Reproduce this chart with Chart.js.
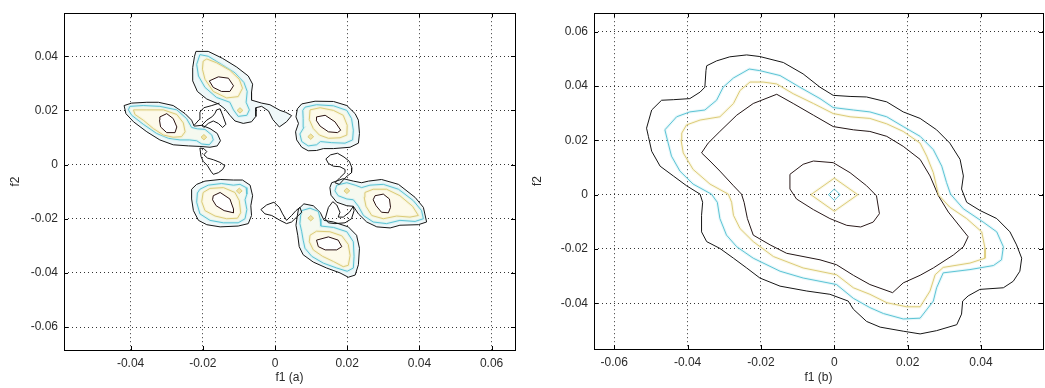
<!DOCTYPE html>
<html>
<head>
<meta charset="utf-8">
<script src="https://cdn.jsdelivr.net/npm/chart.js@4.4.1/dist/chart.umd.min.js"></script>
<style>
  html, body { margin: 0; padding: 0; background: #fff; }
  #wrap { position: relative; width: 1045px; height: 388px; overflow: hidden; }
  #left { position: absolute; left: 0; top: 0; }
  #right { position: absolute; left: 522px; top: 0; }
</style>
</head>
<body>
<div id="wrap">
  <canvas id="left" width="522" height="388" style="width:522px;height:388px"></canvas>
  <canvas id="right" width="523" height="388" style="width:523px;height:388px"></canvas>
</div>
<script>
// contour vertices, in units of 0.01 (f1, f2)
// ---- plot (a) ----
const aInner = [[-1.82,3.09],[-1.57,3.24],[-1.29,3.19],[-1.15,2.91],[-1.25,2.70],[-1.48,2.70],[-1.71,2.85]];
const aYellow = [[-1.99,3.82],[-2.01,3.52],[-1.94,3.15],[-1.71,2.70],[-1.34,2.46],[-1.02,2.51],[-0.90,2.82],[-0.99,3.15],[-1.25,3.48],[-1.62,3.76],[-1.89,3.90]];
const aCyan = [[-2.08,4.06],[-2.17,3.70],[-2.12,3.27],[-1.94,2.85],[-1.62,2.48],[-1.25,2.30],[-1.15,2.02],[-1.02,1.78],[-0.78,1.82],[-0.71,2.02],[-0.80,2.30],[-0.77,2.70],[-0.86,3.03],[-1.11,3.39],[-1.48,3.70],[-1.85,4.00]];
const aSat = [[-1.05,2.0],[-0.97,2.1],[-0.89,2.0],[-0.97,1.9]];
const aOuter = [[-2.19,4.18],[-1.85,4.18],[-1.45,3.92],[-1.06,3.60],[-0.74,3.27],[-0.62,2.97],[-0.65,2.67],[-0.65,2.38],[-0.37,2.27],[-0.14,2.21],[0.14,2.00],[0.30,1.93],[0.46,1.81],[0.32,1.58],[0.12,1.39],[-0.06,1.66],[-0.18,1.98],[-0.37,2.15],[-0.53,2.10],[-0.53,1.78],[-0.65,1.58],[-0.88,1.52],[-1.11,1.61],[-1.25,1.82],[-1.39,2.06],[-1.57,2.24],[-1.89,2.42],[-2.15,2.70],[-2.28,3.09],[-2.28,3.58],[-2.23,4.00]];

const bInner = [[-3.19,1.76],[-3.00,1.88],[-2.82,1.70],[-2.72,1.39],[-2.77,1.18],[-3.00,1.18],[-3.17,1.39],[-3.20,1.64]];
const bYellow = [[-3.92,2.02],[-3.55,2.02],[-3.09,2.02],[-2.72,1.85],[-2.54,1.54],[-2.49,1.21],[-2.59,1.03],[-2.82,1.01],[-3.09,1.09],[-3.37,1.33],[-3.65,1.64],[-3.88,1.85]];
const bCyan = [[-4.02,2.15],[-3.65,2.18],[-3.19,2.15],[-2.72,2.02],[-2.45,1.70],[-2.31,1.37],[-2.15,1.32],[-1.94,1.30],[-1.75,1.09],[-1.71,0.91],[-1.82,0.73],[-2.03,0.76],[-2.17,0.88],[-2.37,0.91],[-2.63,0.91],[-2.95,0.97],[-3.28,1.15],[-3.65,1.49],[-3.97,1.82],[-4.06,2.02]];
const bSat = [[-2.05,1.01],[-1.97,1.11],[-1.89,1.01],[-1.97,0.91]];
const bOuter = [[-4.18,2.18],[-3.97,2.27],[-3.55,2.30],[-3.23,2.30],[-2.82,2.18],[-2.49,1.88],[-2.31,1.64],[-2.24,1.42],[-2.03,1.45],[-1.80,1.33],[-1.60,1.15],[-1.51,0.88],[-1.60,0.69],[-1.80,0.64],[-2.08,0.67],[-2.40,0.69],[-2.82,0.73],[-3.19,0.91],[-3.55,1.21],[-3.92,1.58],[-4.13,1.88]];

const cInner = [[1.15,1.76],[1.39,1.82],[1.66,1.58],[1.82,1.27],[1.73,1.18],[1.48,1.21],[1.25,1.42],[1.14,1.64]];
const cYellow = [[0.97,2.02],[1.25,2.10],[1.62,2.00],[1.89,1.82],[2.00,1.45],[1.99,1.09],[1.80,0.99],[1.48,0.97],[1.23,1.09],[1.06,1.33],[0.95,1.66]];
const cCyan = [[0.83,2.12],[1.15,2.21],[1.62,2.17],[1.99,2.00],[2.12,1.70],[2.17,1.27],[2.15,0.91],[1.94,0.79],[1.57,0.81],[1.26,0.85],[1.15,0.73],[0.92,0.69],[0.74,0.85],[0.69,1.13],[0.80,1.37],[0.78,1.70],[0.77,2.00]];
const cSat = [[0.91,1.03],[0.99,1.13],[1.07,1.03],[0.99,0.93]];
const cOuter = [[0.74,2.24],[1.11,2.34],[1.62,2.33],[1.99,2.18],[2.22,1.88],[2.31,1.64],[2.34,1.15],[2.31,0.79],[2.08,0.64],[1.62,0.59],[1.34,0.59],[1.15,0.52],[0.92,0.51],[0.74,0.64],[0.60,0.91],[0.57,1.21],[0.65,1.52],[0.58,1.76],[0.62,2.06]];

const dInner = [[1.15,-2.79],[1.48,-2.67],[1.75,-2.79],[1.85,-3.03],[1.71,-3.15],[1.39,-3.15],[1.20,-3.03]];
const dYellow = [[0.97,-2.61],[1.15,-2.46],[1.52,-2.48],[1.85,-2.63],[2.03,-2.95],[2.08,-3.36],[2.03,-3.72],[1.89,-3.77],[1.62,-3.58],[1.32,-3.39],[1.06,-3.15],[0.95,-2.85]];
const dCyan = [[0.74,-1.70],[0.97,-1.61],[1.20,-1.73],[1.25,-2.00],[1.27,-2.27],[1.62,-2.32],[1.99,-2.48],[2.17,-2.85],[2.19,-3.39],[2.17,-3.82],[2.00,-3.94],[1.71,-3.82],[1.34,-3.64],[1.02,-3.39],[0.83,-3.09],[0.78,-2.79],[0.74,-2.48],[0.69,-2.18],[0.71,-1.88]];
const dSat = [[0.91,-1.98],[0.99,-1.88],[1.07,-1.98],[0.99,-2.08]];
const dOuter = [[0.65,-1.64],[0.80,-1.45],[1.06,-1.52],[1.25,-1.76],[1.36,-2.06],[1.62,-2.12],[2.03,-2.30],[2.26,-2.61],[2.34,-3.09],[2.31,-3.70],[2.22,-4.08],[2.03,-4.16],[1.80,-4.00],[1.43,-3.82],[1.06,-3.60],[0.78,-3.33],[0.67,-3.03],[0.63,-2.61],[0.58,-2.24],[0.62,-1.88]];

const eInner = [[2.77,-1.15],[3.00,-1.09],[3.17,-1.27],[3.20,-1.58],[3.14,-1.78],[2.95,-1.76],[2.80,-1.52],[2.72,-1.30]];
const eYellow = [[2.49,-1.03],[2.72,-0.91],[3.09,-0.91],[3.46,-1.15],[3.81,-1.54],[3.97,-1.88],[3.74,-1.94],[3.37,-1.90],[3.00,-2.00],[2.68,-1.88],[2.52,-1.54],[2.47,-1.21]];
const eCyan = [[1.71,-0.76],[1.99,-0.67],[2.22,-0.76],[2.40,-0.85],[2.63,-0.76],[3.00,-0.73],[3.42,-0.91],[3.83,-1.33],[4.06,-1.70],[4.11,-2.00],[3.88,-2.10],[3.46,-2.06],[3.09,-2.18],[2.72,-2.12],[2.45,-1.88],[2.31,-1.54],[2.17,-1.30],[1.99,-1.27],[1.75,-1.15],[1.66,-0.97]];
const eSat = [[1.91,-0.97],[1.99,-0.87],[2.07,-0.97],[1.99,-1.07]];
const eOuter = [[1.57,-0.67],[1.89,-0.52],[2.17,-0.61],[2.40,-0.67],[2.59,-0.61],[2.95,-0.55],[3.42,-0.73],[3.88,-1.21],[4.11,-1.58],[4.20,-2.12],[3.97,-2.22],[3.46,-2.24],[3.19,-2.34],[2.82,-2.30],[2.54,-2.12],[2.31,-1.82],[2.17,-1.54],[1.99,-1.52],[1.71,-1.39],[1.55,-1.13],[1.52,-0.85]];

const fInner = [[-1.71,-1.15],[-1.52,-1.03],[-1.25,-1.27],[-1.15,-1.64],[-1.15,-1.78],[-1.41,-1.70],[-1.63,-1.52],[-1.73,-1.30]];
const fYellow = [[-1.99,-1.03],[-1.80,-0.88],[-1.43,-0.85],[-1.11,-1.03],[-0.99,-1.33],[-0.95,-1.78],[-1.04,-1.98],[-1.34,-2.00],[-1.66,-1.90],[-1.94,-1.70],[-2.03,-1.37]];
const fCyan = [[-2.08,-0.91],[-1.85,-0.76],[-1.48,-0.70],[-1.15,-0.76],[-0.97,-0.73],[-0.80,-0.85],[-0.78,-1.09],[-0.83,-1.30],[-0.78,-1.66],[-0.83,-2.00],[-1.02,-2.15],[-1.43,-2.15],[-1.80,-2.06],[-2.08,-1.82],[-2.17,-1.39],[-2.15,-1.05]];
const fSat = [[-1.07,-0.97],[-0.99,-0.87],[-0.91,-0.97],[-0.99,-1.07]];
const fOuter = [[-2.17,-0.73],[-1.94,-0.61],[-1.52,-0.55],[-1.15,-0.57],[-0.90,-0.57],[-0.69,-0.76],[-0.62,-1.15],[-0.67,-1.52],[-0.65,-1.88],[-0.74,-2.18],[-1.02,-2.27],[-1.52,-2.30],[-1.89,-2.22],[-2.12,-2.06],[-2.26,-1.70],[-2.31,-1.27],[-2.31,-0.91]];

// loose low-level outlines between the lobes
const armAB1 = [[-2.24,1.45],[-2.10,1.66],[-2.08,1.94],[-1.97,2.10],[-1.75,2.18],[-1.54,2.27]];
const armAB2 = [[-1.62,2.02],[-1.52,2.06],[-1.45,1.82],[-1.36,1.49],[-1.45,1.37],[-1.57,1.52],[-1.71,1.61],[-1.85,1.52],[-1.97,1.37],[-2.03,1.45],[-1.89,1.64],[-1.73,1.78],[-1.66,1.90]];
const armBF = [[-2.08,0.61],[-2.05,0.30],[-1.99,0.12],[-1.87,-0.04],[-1.78,-0.24],[-1.71,-0.36],[-1.57,-0.30],[-1.45,-0.18],[-1.39,-0.04],[-1.52,0.08],[-1.71,0.18],[-1.87,0.24],[-1.97,0.36],[-1.89,0.48],[-1.97,0.59]];
const armCE = [[1.41,0.21],[1.54,0.36],[1.73,0.42],[1.91,0.28],[2.06,0.12],[2.13,-0.12],[2.12,-0.30],[2.00,-0.42],[1.89,-0.57],[1.78,-0.73],[1.66,-0.67],[1.80,-0.48],[1.94,-0.30],[1.94,-0.18],[1.80,-0.08],[1.62,-0.06],[1.48,0.04]];
const armFD = [[-0.39,-1.66],[-0.23,-1.49],[-0.03,-1.39],[0.12,-1.58],[0.21,-1.82],[0.32,-2.06],[0.46,-1.88],[0.58,-1.70],[0.69,-1.58],[0.74,-1.76],[0.60,-1.94],[0.46,-2.12],[0.32,-2.18],[0.14,-2.06],[-0.09,-1.88],[-0.28,-1.82]];
const armDE = [[1.39,-2.00],[1.48,-1.58],[1.60,-1.37],[1.71,-1.49],[1.80,-1.76],[1.75,-1.94],[1.89,-1.94],[2.06,-1.76],[2.17,-1.54],[2.19,-1.70],[2.12,-2.00],[1.94,-2.15],[1.66,-2.18],[1.48,-2.15]];

// ---- plot (b) ----
const bigOuter = [[-3.48,4.75],[-3.21,4.93],[-2.85,5.08],[-2.39,5.15],[-2.03,5.09],[-1.39,4.87],[-0.85,4.45],[-0.39,3.96],[-0.03,3.66],[0.43,3.62],[0.88,3.60],[1.43,3.42],[1.88,3.05],[2.34,2.81],[2.79,2.39],[3.15,1.90],[3.43,1.30],[3.52,0.69],[3.47,0.21],[3.61,-0.28],[3.97,-0.58],[4.43,-0.88],[4.79,-1.37],[4.97,-1.85],[5.11,-2.34],[5.06,-2.82],[4.88,-3.19],[4.61,-3.43],[3.97,-3.49],[3.65,-3.73],[3.50,-3.92],[3.47,-4.40],[3.34,-4.79],[2.79,-5.01],[2.34,-5.13],[1.88,-5.03],[1.25,-4.88],[0.88,-4.67],[0.52,-4.22],[0.38,-3.92],[-0.12,-3.67],[-0.75,-3.55],[-1.48,-3.37],[-2.03,-3.07],[-2.39,-2.70],[-2.75,-2.34],[-3.12,-1.98],[-3.48,-1.73],[-3.62,-1.37],[-3.62,-0.76],[-3.59,-0.28],[-3.66,0.02],[-4.03,0.33],[-4.39,0.69],[-4.75,1.05],[-4.98,1.60],[-5.07,2.15],[-5.12,2.45],[-4.98,3.12],[-4.71,3.48],[-4.39,3.50],[-3.94,3.54],[-3.66,3.78],[-3.53,3.96],[-3.50,4.57]];
const bigCyan = [[-4.62,2.39],[-4.30,2.87],[-3.94,3.05],[-3.53,3.12],[-3.21,3.48],[-3.03,3.96],[-2.75,4.30],[-2.32,4.63],[-2.03,4.57],[-1.48,4.39],[-0.94,3.96],[-0.39,3.54],[-0.03,3.21],[0.52,3.12],[0.97,3.05],[1.43,2.87],[1.88,2.51],[2.34,2.15],[2.70,1.66],[2.93,1.05],[3.06,0.45],[3.17,0.02],[3.52,-0.52],[4.06,-1.01],[4.43,-1.37],[4.61,-1.92],[4.56,-2.40],[4.34,-2.61],[3.70,-2.76],[2.97,-2.88],[2.79,-3.43],[2.70,-3.92],[2.34,-4.55],[1.88,-4.58],[1.34,-4.38],[0.97,-4.16],[0.52,-3.82],[0.06,-3.31],[-0.85,-3.07],[-1.48,-2.82],[-2.21,-2.34],[-2.66,-1.92],[-2.94,-1.49],[-3.12,-0.88],[-3.19,-0.28],[-3.35,0.02],[-3.85,0.39],[-4.21,0.87],[-4.44,1.42],[-4.53,1.90]];
const bigYellow = [[-4.16,2.27],[-4.03,2.57],[-3.66,2.75],[-3.12,2.87],[-2.75,3.36],[-2.57,3.84],[-2.30,4.15],[-1.94,4.15],[-1.57,4.08],[-1.12,3.72],[-0.57,3.36],[-0.03,2.99],[0.43,2.87],[0.97,2.81],[1.43,2.61],[1.88,2.33],[2.34,1.90],[2.52,1.42],[2.70,0.81],[2.84,-0.01],[3.15,-0.46],[3.61,-0.88],[4.02,-1.37],[4.11,-1.98],[4.11,-2.34],[3.70,-2.52],[2.97,-2.68],[2.75,-2.95],[2.61,-3.55],[2.34,-4.13],[1.97,-4.13],[1.43,-3.98],[0.97,-3.67],[0.52,-3.43],[0.06,-2.95],[-0.85,-2.70],[-1.66,-2.28],[-2.21,-1.73],[-2.57,-1.25],[-2.75,-0.76],[-2.80,-0.28],[-2.89,0.02],[-3.39,0.39],[-3.85,0.93],[-4.12,1.54],[-4.18,2.02]];
const bigInner = [[-3.62,1.54],[-3.44,1.90],[-3.12,2.33],[-2.66,2.93],[-2.21,3.36],[-1.57,3.70],[-1.12,3.36],[-0.57,2.93],[-0.03,2.51],[0.52,2.39],[0.97,2.33],[1.43,2.15],[1.88,1.78],[2.34,1.30],[2.61,0.69],[2.84,-0.04],[3.11,-0.64],[3.65,-1.55],[3.52,-1.92],[3.25,-2.22],[2.70,-2.70],[2.34,-2.97],[1.88,-3.25],[1.59,-3.61],[0.97,-3.31],[0.52,-2.97],[0.06,-2.58],[-0.39,-2.40],[-1.30,-2.16],[-1.75,-1.85],[-2.21,-1.49],[-2.37,-0.88],[-2.46,-0.28],[-2.53,0.02],[-2.75,0.33],[-3.12,0.87],[-3.39,1.24]];
const centerRing = [[-1.21,0.75],[-0.85,1.12],[-0.57,1.24],[-0.03,1.18],[0.43,0.81],[0.88,0.33],[1.15,-0.04],[1.23,-0.70],[1.06,-1.01],[0.72,-1.19],[0.34,-1.13],[-0.12,-0.88],[-0.57,-0.55],[-1.03,-0.16],[-1.21,0.21]];
const centerYellow = [[-0.64,0],[0,0.61],[0.64,0],[0,-0.61]];
const centerCyan = [[-0.16,0],[0,0.21],[0.16,0],[0,-0.21]];

// axis ticks
const xTicksA = [-0.04, -0.02, 0, 0.02, 0.04, 0.06];
const yTicksA = [-0.06, -0.04, -0.02, 0, 0.02, 0.04];
const xTicksB = [-0.06, -0.04, -0.02, 0, 0.02, 0.04];
const yTicksB = [-0.04, -0.02, 0, 0.02, 0.04, 0.06];

const C_OUT = '#161616', C_CYAN = '#5cc4d4', C_YEL = '#dccb78', C_IN = '#2b1212';
const H_CYAN = 'rgba(185,232,240,0.35)', H_YEL = 'rgba(242,234,190,0.35)';

function pts(arr, close) {
    const p = arr.map(q => ({ x: q[0] / 100, y: q[1] / 100 }));
    if (close) p.push(p[0]);
    return p;
}

function contour(arr, color, order, fillColor, open, width) {
    return {
        data: pts(arr, !open),
        showLine: true,
        borderColor: color,
        borderWidth: width || 1,
        pointRadius: 0,
        tension: 0,
        fill: fillColor ? 'shape' : false,
        backgroundColor: fillColor || 'transparent',
        order: order
    };
}

function lobe(outer, cyan, yellow, inner, sat) {
    return [
        contour(outer, C_OUT, 9, '#eff8f9'),
        contour(cyan, H_CYAN, 8, '#f5f9ef', false, 3),
        contour(cyan, C_CYAN, 7),
        contour(yellow, H_YEL, 6, '#fdfaea', false, 3),
        contour(yellow, C_YEL, 5),
        contour(inner, C_IN, 2, '#ffffff'),
        contour(sat, C_YEL, 1, '#f1e4a8')
    ];
}

const fmt = v => v === 0 ? '0' : v.toFixed(2);

const frame = {
    id: 'frame',
    afterDraw(chart) {
        const { ctx, chartArea: a, scales } = chart;
        ctx.save();
        ctx.strokeStyle = '#000';
        ctx.lineWidth = 1;
        ctx.strokeRect(Math.round(a.left) + 0.5, Math.round(a.top) + 0.5,
            Math.round(a.right - a.left), Math.round(a.bottom - a.top));
        ctx.beginPath();
        scales.x.ticks.forEach(t => {
            const px = Math.round(scales.x.getPixelForValue(t.value)) + 0.5;
            ctx.moveTo(px, a.bottom); ctx.lineTo(px, a.bottom - 4);
            ctx.moveTo(px, a.top); ctx.lineTo(px, a.top + 4);
        });
        scales.y.ticks.forEach(t => {
            const py = Math.round(scales.y.getPixelForValue(t.value)) + 0.5;
            ctx.moveTo(a.left, py); ctx.lineTo(a.left + 4, py);
            ctx.moveTo(a.right, py); ctx.lineTo(a.right - 4, py);
        });
        ctx.stroke();
        ctx.restore();
    }
};

function makeChart(id, datasets, xr, yr, xt, yt, xTitle, yAxisW, xAxisH, padRight) {
    const font = { family: '"Liberation Sans", Arial, sans-serif', size: 12 };
    new Chart(document.getElementById(id).getContext('2d'), {
        type: 'scatter',
        data: { datasets: datasets },
        options: {
            responsive: false,
            animation: false,
            events: [],
            layout: { padding: { top: 8, right: padRight, left: 0, bottom: 0 } },
            plugins: { legend: { display: false }, tooltip: { enabled: false } },
            scales: {
                x: {
                    type: 'linear', min: xr[0], max: xr[1],
                    afterBuildTicks: s => { s.ticks = xt.map(v => ({ value: v })); },
                    afterFit: s => { s.height = xAxisH; },
                    ticks: { callback: fmt, color: '#2a2a2a', font: font, padding: 6, maxRotation: 0 },
                    grid: { color: '#333', lineWidth: 1, drawTicks: false },
                    border: { display: false, dash: [1, 3] },
                    title: { display: true, text: xTitle, color: '#2a2a2a', font: { family: font.family, size: 12 }, padding: { top: 0, bottom: 3 } }
                },
                y: {
                    type: 'linear', min: yr[0], max: yr[1],
                    afterBuildTicks: s => { s.ticks = yt.map(v => ({ value: v })); },
                    afterFit: s => { s.width = yAxisW; },
                    ticks: { callback: fmt, color: '#2a2a2a', font: font, padding: 6 },
                    grid: { color: '#333', lineWidth: 1, drawTicks: false },
                    border: { display: false, dash: [1, 3] },
                    title: { display: true, text: 'f2', color: '#2a2a2a', font: { family: font.family, size: 12 }, padding: { top: 8, bottom: 0 } }
                }
            }
        },
        plugins: [frame]
    });
}

const leftSets = [].concat(
    lobe(aOuter, aCyan, aYellow, aInner, aSat),
    lobe(bOuter, bCyan, bYellow, bInner, bSat),
    lobe(cOuter, cCyan, cYellow, cInner, cSat),
    lobe(dOuter, dCyan, dYellow, dInner, dSat),
    lobe(eOuter, eCyan, eYellow, eInner, eSat),
    lobe(fOuter, fCyan, fYellow, fInner, fSat),
    [
        contour(armAB1, C_OUT, 0, null, true),
        contour(armAB2, C_OUT, 0),
        contour(armBF, C_OUT, 0),
        contour(armCE, C_OUT, 0),
        contour(armFD, C_OUT, 0),
        contour(armDE, C_OUT, 0)
    ]
);

const rightSets = [
    contour(bigCyan, H_CYAN, 3, null, false, 3),
    contour(bigYellow, H_YEL, 3, null, false, 3),
    contour(centerYellow, H_YEL, 3, null, false, 3),
    contour(bigOuter, C_OUT, 0),
    contour(bigCyan, C_CYAN, 0),
    contour(bigYellow, C_YEL, 0),
    contour(bigInner, '#231616', 0),
    contour(centerRing, '#2b1a1a', 0),
    contour(centerYellow, C_YEL, 0),
    contour(centerCyan, C_CYAN, 0)
];

makeChart('left', leftSets, [-0.05845, 0.06648], [-0.06847, 0.0559], xTicksA, yTicksA, 'f1 (a)', 64, 38, 7);
makeChart('right', rightSets, [-0.06553, 0.05691], [-0.05686, 0.06687], xTicksB, yTicksB, 'f1 (b)', 72, 39, 2);
</script>
</body>
</html>
